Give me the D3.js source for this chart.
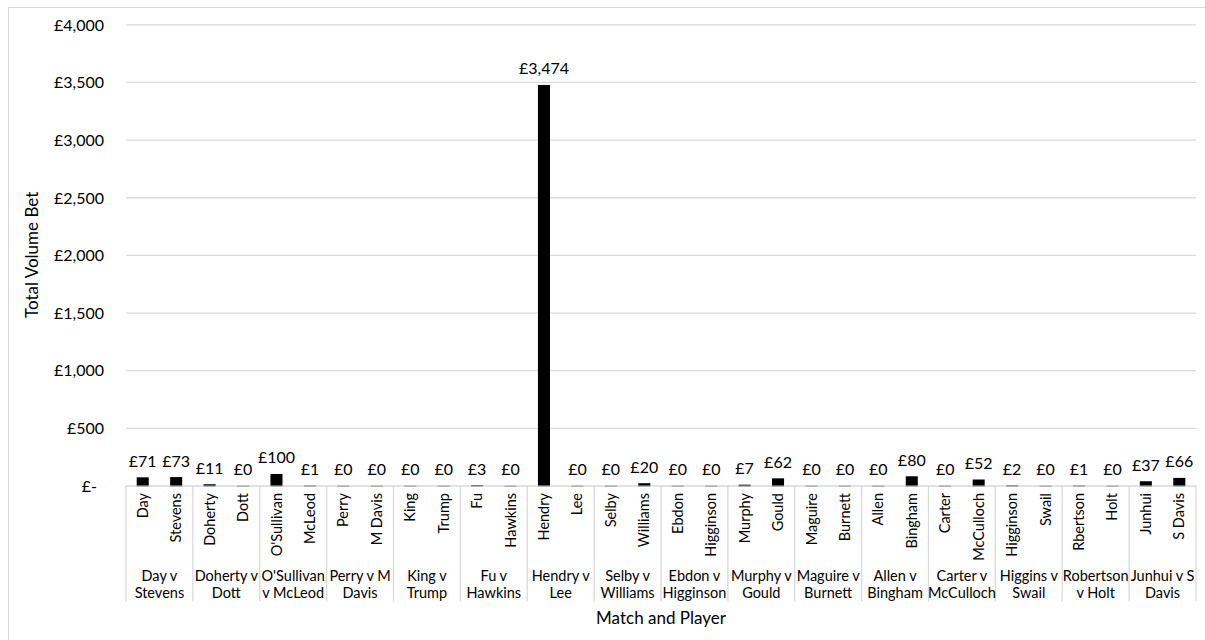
<!DOCTYPE html>
<html>
<head>
<meta charset="utf-8">
<script src="https://cdn.jsdelivr.net/npm/d3@7"></script>
<style>
  html, body { margin: 0; padding: 0; background: #fff; }
  svg { display: block; }
  text { font-family: Lato, "Open Sans", sans-serif; fill: #000; }
</style>
</head>
<body>
<svg id="chart" width="1205" height="640"></svg>
<script>
// ---- data ----
const matches = [
  "Day v Stevens", "Doherty v Dott", "O'Sullivan v McLeod", "Perry v M Davis",
  "King v Trump", "Fu v Hawkins", "Hendry v Lee", "Selby v Williams",
  "Ebdon v Higginson", "Murphy v Gould", "Maguire v Burnett", "Allen v Bingham",
  "Carter v McCulloch", "Higgins v Swail", "Robertson v Holt", "Junhui v S Davis"
];
const matchLines = [
  ["Day v", "Stevens"], ["Doherty v", "Dott"], ["O'Sullivan", "v McLeod"], ["Perry v M", "Davis"],
  ["King v", "Trump"], ["Fu v", "Hawkins"], ["Hendry v", "Lee"], ["Selby v", "Williams"],
  ["Ebdon v", "Higginson"], ["Murphy v", "Gould"], ["Maguire v", "Burnett"], ["Allen v", "Bingham"],
  ["Carter v", "McCulloch"], ["Higgins v", "Swail"], ["Robertson", "v Holt"], ["Junhui v S", "Davis"]
];
const players = [
  "Day", "Stevens", "Doherty", "Dott", "O'Sullivan", "McLeod", "Perry", "M Davis",
  "King", "Trump", "Fu", "Hawkins", "Hendry", "Lee", "Selby", "Williams",
  "Ebdon", "Higginson", "Murphy", "Gould", "Maguire", "Burnett", "Allen", "Bingham",
  "Carter", "McCulloch", "Higginson", "Swail", "Rbertson", "Holt", "Junhui", "S Davis"
];
const volumes = [
  71, 73, 11, 0, 100, 1, 0, 0,
  0, 0, 3, 0, 3474, 0, 0, 20,
  0, 0, 7, 62, 0, 0, 0, 80,
  0, 52, 2, 0, 1, 0, 37, 66
];
const yTicks = [0, 500, 1000, 1500, 2000, 2500, 3000, 3500, 4000];

// ---- layout ----
const svg = d3.select("#chart");
const plot = { left: 126, right: 1196, top: 24.3, bottom: 485.5 };
const grid = "#d9d9d9";

// outer chart border
svg.append("rect")
  .attr("x", 8.5).attr("y", 7.5)
  .attr("width", 1205).attr("height", 700)
  .attr("fill", "none").attr("stroke", grid).attr("stroke-width", 1);

const idx = d3.range(players.length);
const x = d3.scaleBand().domain(idx).range([plot.left, plot.right])
  .paddingInner(0.64).paddingOuter(0.32);
const xGroup = d3.scaleBand().domain(d3.range(matches.length)).range([plot.left, plot.right]);
const y = d3.scaleLinear().domain([0, 4000]).range([plot.bottom, plot.top]);

// gridlines + value axis labels
const gAxisY = svg.append("g").attr("transform", `translate(${plot.left},0)`)
  .call(d3.axisLeft(y).tickValues(yTicks).tickSize(-(plot.right - plot.left)).tickPadding(22)
    .tickFormat(d => d === 0 ? "£-" : "£" + d3.format(",")(d)));
gAxisY.select(".domain").remove();
gAxisY.selectAll(".tick line").attr("stroke", d => d === 0 ? "none" : grid).attr("stroke-width", 1.3);
gAxisY.selectAll(".tick text").attr("font-size", 16).attr("font-family", "Lato, sans-serif")
  .attr("fill", "#000").attr("dy", "0.36em").attr("text-anchor", "end")
  .attr("dx", d => d === 0 ? -7 : 0);

// category axis line + group separators
svg.append("line").attr("x1", plot.left).attr("x2", plot.right)
  .attr("y1", plot.bottom + 0.5).attr("y2", plot.bottom + 0.5)
  .attr("stroke", grid).attr("stroke-width", 1.3);
const sepX = d3.range(matches.length + 1).map(i => i < matches.length ? xGroup(i) : plot.right);
svg.selectAll("line.sep").data(sepX).join("line").attr("class", "sep")
  .attr("x1", d => d).attr("x2", d => d)
  .attr("y1", plot.bottom).attr("y2", 601.5)
  .attr("stroke", grid).attr("stroke-width", 1.3);

// baseline marks under each bar
svg.selectAll("rect.base").data(idx).join("rect").attr("class", "base")
  .attr("x", i => x(i)).attr("width", x.bandwidth())
  .attr("y", plot.bottom).attr("height", 1.3).attr("fill", "#a6a6a6");

// bars
svg.selectAll("rect.bar").data(idx).join("rect").attr("class", "bar")
  .attr("x", i => x(i)).attr("width", x.bandwidth())
  .attr("y", i => y(volumes[i])).attr("height", i => y(0) - y(volumes[i]))
  .attr("fill", "#000");

// data labels
svg.selectAll("text.val").data(idx).join("text").attr("class", "val")
  .attr("x", i => x(i) + x.bandwidth() / 2)
  .attr("y", i => y(volumes[i]) - 10.5)
  .attr("text-anchor", "middle").attr("font-size", 16)
  .text(i => "£" + d3.format(",")(volumes[i]));

// player labels (rotated)
svg.selectAll("text.player").data(idx).join("text").attr("class", "player")
  .attr("transform", i => `translate(${x(i) + x.bandwidth() / 2},493) rotate(-90)`)
  .attr("text-anchor", "end").attr("dy", "0.35em").attr("font-size", 14.5)
  .text(i => players[i]);

// match labels (two lines)
const gm = svg.selectAll("text.match").data(d3.range(matches.length)).join("text").attr("class", "match")
  .attr("text-anchor", "middle").attr("font-size", 14.5)
  .attr("x", i => xGroup(i) + xGroup.bandwidth() / 2).attr("y", 581);
gm.append("tspan").attr("x", i => xGroup(i) + xGroup.bandwidth() / 2).text(i => matchLines[i][0]);
gm.append("tspan").attr("x", i => xGroup(i) + xGroup.bandwidth() / 2).attr("dy", 17).text(i => matchLines[i][1]);

// axis titles
svg.append("text").attr("transform", `translate(38,${(plot.top + plot.bottom) / 2}) rotate(-90)`)
  .attr("text-anchor", "middle").attr("font-size", 17).text("Total Volume Bet");
svg.append("text").attr("x", (plot.left + plot.right) / 2).attr("y", 624)
  .attr("text-anchor", "middle").attr("font-size", 17).text("Match and Player");
</script>
</body>
</html>
